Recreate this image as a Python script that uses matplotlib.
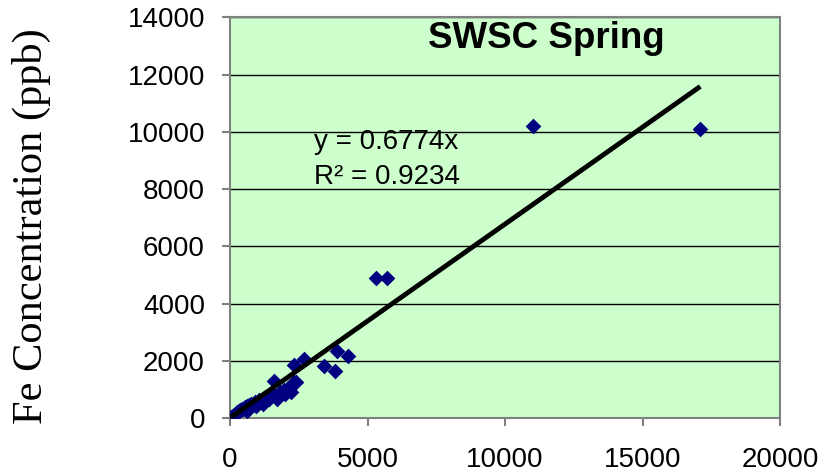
import matplotlib
matplotlib.use("Agg")
import matplotlib.pyplot as plt
import numpy as np

# Data
x_vals = [30, 80, 120, 160, 200, 260, 320, 380, 430, 480, 550, 620, 700, 780,
          900, 1050, 1150, 1250, 1400, 1550, 1650, 1800, 1950, 2100, 2250, 2400,
          1590, 2340, 2690, 3420, 3820, 3880, 4280, 2340,
          1200, 1700, 2000, 2200, 950, 600,
          5300, 5700, 11000, 17100]
y_vals = [20, 50, 80, 120, 150, 200, 230, 280, 320, 300, 380, 420, 470, 500,
          560, 620, 550, 700, 680, 820, 760, 900, 980, 1050, 1150, 1250,
          1300, 1850, 2050, 1830, 1650, 2350, 2150, 1270,
          480, 680, 850, 900, 420, 250,
          4900, 4900, 10200, 10100]
slope = 0.6774
r2 = 0.9234
title = "SWSC Spring"
y_label = "Fe Concentration (ppb)"
x_ticks = [0, 5000, 10000, 15000, 20000]
y_ticks = [0, 2000, 4000, 6000, 8000, 10000, 12000, 14000]

fig = plt.figure(figsize=(8.19, 4.76), dpi=100)
ax = fig.add_axes([230/819, 1-418/476, 550/819, (418-17.3)/476])
ax.set_facecolor("#CCFFCC")
ax.set_xlim(0, 20000)
ax.set_ylim(0, 14000)
ax.set_xticks(x_ticks)
ax.set_yticks(y_ticks)
ax.grid(axis="y", color="black", linewidth=1.0)
ax.set_axisbelow(True)
for s in ax.spines.values():
    s.set_color("#808080")
    s.set_linewidth(1.5)
ax.tick_params(direction="out", length=6, width=1.5, color="#808080",
               labelsize=20, pad=12)
ax.tick_params(axis="x", pad=15)
for lab in ax.get_xticklabels() + ax.get_yticklabels():
    lab.set_fontfamily("Liberation Sans")

xs = np.array(x_vals, dtype=float)
ax.scatter(xs, y_vals, marker="D", s=64, color="#000080", zorder=3, linewidths=0)
xline = np.array([0, xs.max()])
ax.plot(xline, slope * xline, color="black", linewidth=3.5, zorder=4,
        solid_capstyle="butt")

ax.text(0.5745, 0.923, title, transform=ax.transAxes, ha="center", va="baseline",
        fontsize=26.5, fontweight="bold", family="Liberation Sans")
ax.text(0.153, 0.671, f"y = {slope}x", transform=ax.transAxes, ha="left",
        va="baseline", fontsize=20, family="Liberation Sans")
ax.text(0.153, 0.584, f"R² = {r2}", transform=ax.transAxes, ha="left",
        va="baseline", fontsize=20, family="Liberation Sans")

fig.text(31/819, 1-226/476, y_label, rotation=90, ha="center", va="center",
         fontsize=30.5, family="Liberation Serif")

fig.savefig("out.png", dpi=100)
